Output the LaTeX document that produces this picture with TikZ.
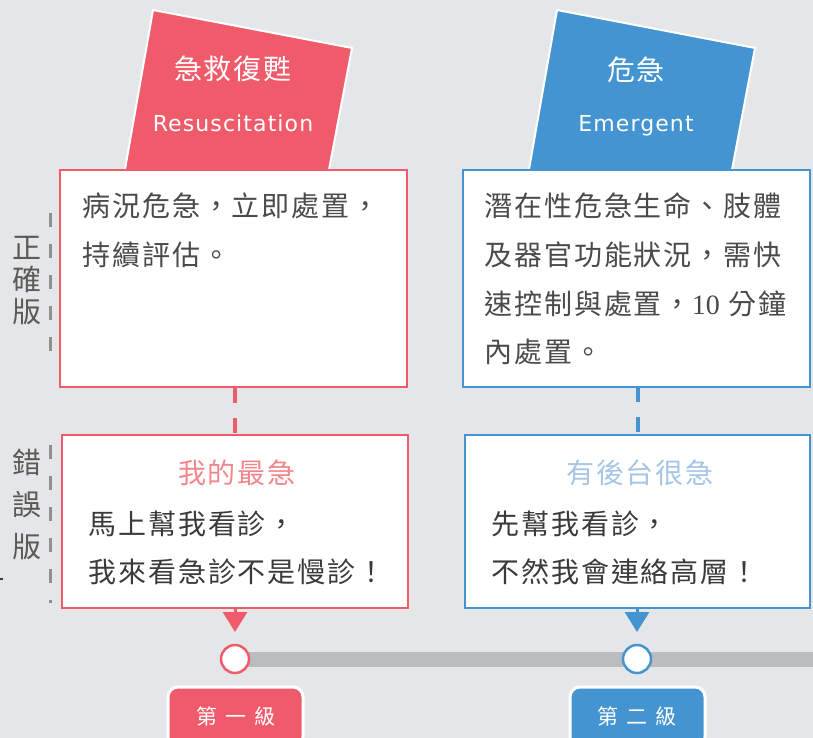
\documentclass[tikz,border=0pt]{standalone}
\usepackage{fontspec}
\usetikzlibrary{arrows.meta}
\newfontfamily\cjk{Noto Sans CJK TC}
\newfontfamily\cjkw[LetterSpace=7]{Noto Sans CJK TC}
\newfontfamily\latfont[LetterSpace=5]{DejaVu Sans}
\newfontfamily\serfont{Liberation Serif}
\definecolor{bgc}{HTML}{E5E6E8}
\definecolor{redc}{HTML}{F05B6B}
\definecolor{bluec}{HTML}{4394D0}
\definecolor{redt}{HTML}{F3868C}
\definecolor{bluet}{HTML}{A7C6E6}
\definecolor{barc}{HTML}{BBBCBF}
\definecolor{txta}{HTML}{4A4A4A}
\definecolor{txtb}{HTML}{3A3A3A}
\definecolor{sideg}{HTML}{5A5A5A}
\definecolor{dashg}{HTML}{909090}
\begin{document}
\begin{tikzpicture}[x=1pt,y=-1pt,
  card/.style={draw=white,line width=2pt,line join=miter},
  cardtxt/.style={inner sep=0,text=white,font=\cjkw\fontsize{28}{28}\selectfont},
  cardlat/.style={inner sep=0,text=white,anchor=base,font=\latfont\fontsize{22}{22}\selectfont},
  box/.style={draw,fill=white,line width=2pt,inner sep=0},
  line/.style={anchor=west,inner sep=0,text height=24.6pt,text depth=3.4pt,font=\cjkw\fontsize{28}{28}\selectfont},
  ttl/.style={inner sep=0,text height=24.6pt,text depth=3.4pt,font=\cjkw\fontsize{28}{28}\selectfont},
  conn/.style={line width=3.2pt,dash pattern=on 15pt off 15pt},
  arr/.style={line width=3pt,-{Triangle[length=20pt,width=24pt]}},
  dot/.style={circle,draw,fill=white,line width=2.5pt,minimum size=28pt,inner sep=0},
  lbl/.style={draw=white,line width=3pt,rounded corners=10pt,minimum width=135pt,minimum height=60pt,inner sep=0},
  lbltxt/.style={inner sep=0,text=white,font=\cjk\fontsize{21}{21}\selectfont},
  side/.style={inner sep=0,align=center,text=sideg},
  sidedash/.style={draw=dashg,line width=3pt,dash pattern=on 14pt off 17pt}
]
\clip (0,0) rectangle (813,738);
\fill[bgc] (0,0) rectangle (813,738);

% tilted cards
\filldraw[card,fill=redc] (153,10) -- (352,48) -- (328,175) -- (124,175) -- cycle;
\filldraw[card,fill=bluec] (557,10) -- (755,48) -- (731,175) -- (528,175) -- cycle;
\node[cardtxt] (rcardt) at (233,69) {急救復甦};
\node[cardlat] (rcardl) at (233,132) {Resuscitation};
\node[cardtxt] (bcardt) at (636,69.5) {危急};
\node[cardlat] (bcardl) at (636,132) {Emergent};

% boxes
\node[box,draw=redc,minimum width=347pt,minimum height=217pt] (rtop) at (233.5,278.5) {};
\node[box,draw=bluec,minimum width=347pt,minimum height=217pt] (btop) at (636.5,278.5) {};
\node[box,draw=redc,minimum width=346pt,minimum height=173pt] (rbot) at (235,521.5) {};
\node[box,draw=bluec,minimum width=345pt,minimum height=173pt] (bbot) at (637.5,521.5) {};

% top texts
\node[line,text=txta] (rt1) at (82,206) {病況危急，立即處置，};
\node[line,text=txta] (rt2) at (82,255) {持續評估。};
\node[line,text=txta] (bt1) at (484,206) {潛在性危急生命、肢體};
\node[line,text=txta] (bt2) at (484,255) {及器官功能狀況，需快};
\node[line,text=txta] (bt3) at (484,303.5) {速控制與處置，{\serfont 10} 分鐘};
\node[line,text=txta] (bt4) at (484,352) {內處置。};

% bottom texts
\node[ttl,text=redt] (rbt) at (237,472.5) {我的最急};
\node[line,text=txtb] (rb1) at (88,523.5) {馬上幫我看診，};
\node[line,text=txtb] (rb2) at (88,571.5) {我來看急診不是慢診！};
\node[ttl,text=bluet] (bbt) at (640,472.5) {有後台很急};
\node[line,text=txtb] (bb1) at (491,523.5) {先幫我看診，};
\node[line,text=txtb] (bb2) at (491,571.5) {不然我會連絡高層！};

% dashed connectors
\draw[conn,redc] (rtop.south -| rbot.north) -- (rbot.north);
\coordinate (bca) at (638,387);
\coordinate (bcb) at (638,435);
\draw[conn,bluec] (bca) -- (bcb);

% timeline
\coordinate (rcc) at (235,659);
\coordinate (bcc) at (637,659);
\coordinate (barend) at (813,659);
\draw[barc,line width=15pt] (rcc) -- (barend);
\coordinate (rtip) at (235,632);
\coordinate (btip) at (637,632);
\draw[arr,redc] (rbot.south) -- (rtip);
\draw[arr,bluec] (bbot.south -| btip) -- (btip);
\node[dot,draw=redc] (rdot) at (rcc) {};
\node[dot,draw=bluec] (bdot) at (bcc) {};

% level labels
\node[lbl,fill=redc] (rlbl) at (235.5,717) {};
\node[lbltxt] (rlblt) at (236,716) {\spaceskip=8pt\relax 第 一 級};
\node[lbl,fill=bluec] (blbl) at (637.5,717) {};
\node[lbltxt] (blblt) at (637,716) {\spaceskip=8pt\relax 第 二 級};

% side labels
\node[side,font=\cjk\fontsize{29}{32}\selectfont] (sok) at (27,281) {正\\確\\版};
\node[side,font=\cjk\fontsize{29}{42}\selectfont] (sbad) at (27,504) {錯\\誤\\版};
\coordinate (d1a) at (50,213);
\coordinate (d1b) at (50,352);
\coordinate (d2a) at (50,445);
\coordinate (d2b) at (50,603);
\draw[sidedash] (d1a) -- (d1b);
\draw[sidedash] (d2a) -- (d2b);
\coordinate (mka) at (0,579);
\coordinate (mkb) at (3,579);
\draw[txtb,line width=1.2pt] (mka) -- (mkb);
\end{tikzpicture}
\end{document}
